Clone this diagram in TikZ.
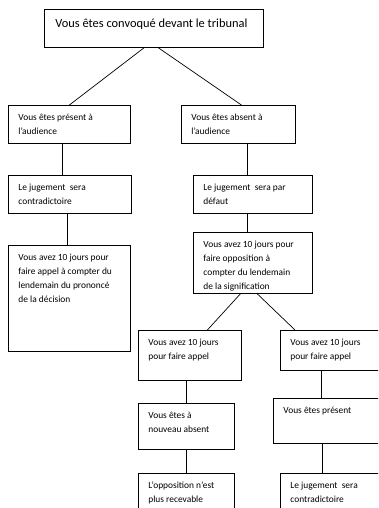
\documentclass[tikz,border=0pt]{standalone}
\usepackage{fontspec}
\setmainfont{Carlito}
\usepackage{tikz}
\newcommand{\cadre}[4]{\parbox[c][#2pt][t]{#1pt}{\raggedright\leftskip=10pt\baselineskip=14pt\rule{0pt}{#3pt}#4}}

\begin{document}
\begin{tikzpicture}[x=1pt,y=-1pt,
  boite/.style={draw,line width=0.8pt,anchor=north west,inner sep=0pt,font=\fontsize{9.4}{14}\selectfont},
  trait/.style={line width=0.7pt}]
\useasboundingbox (0,0) rectangle (378,508);
\clip (0,0) rectangle (378,508);
\node[boite,font=\fontsize{12.4}{15}\selectfont] (convoque) at (44,9) {\cadre{219}{38}{18}{\leftskip=11pt Vous êtes convoqué devant le tribunal}};
\node[boite] (present) at (8,105) {\cadre{122}{38}{15}{Vous êtes présent à\\ l’audience}};
\node[boite] (absent) at (181,105) {\cadre{114}{38}{15}{Vous êtes absent à\\ l’audience}};
\node[boite] (contra) at (8,175) {\cadre{123}{38}{15}{Le jugement\ \ sera\\ contradictoire}};
\node[boite] (defaut) at (193,175) {\cadre{119}{38}{15}{Le jugement\ \ sera par\\ défaut}};
\node[boite] (delai) at (8,245) {\cadre{122}{106}{15}{Vous avez 10 jours pour\\ faire appel à compter du\\ lendemain du prononcé\\ de la décision}};
\node[boite] (opposition) at (193,232) {\cadre{119}{61}{15}{Vous avez 10 jours pour\\ faire opposition à\\ compter du lendemain\\ de la signification}};
\node[boite] (appel1) at (138,330) {\cadre{103}{50}{15}{Vous avez 10 jours\\ pour faire appel}};
\node[boite] (appel2) at (280,330) {\cadre{110}{40}{15}{Vous avez 10 jours\\ pour faire appel}};
\node[boite] (nouveau) at (138,403) {\cadre{96}{46}{15}{Vous êtes à\\ nouveau absent}};
\node[boite] (irrecevable) at (138,473) {\cadre{96}{45}{15}{L’opposition n’est\\ plus recevable}};
\node[boite] (present2) at (273,398) {\cadre{115}{45}{15}{Vous êtes présent}};
\node[boite] (contra2) at (280,473) {\cadre{110}{45}{15}{Le jugement\ \ sera\\ contradictoire}};

\draw[trait] (convoque.243) -- (present.north);
\draw[trait] (convoque.283) -- ([xshift=3pt]absent.north);
\draw[trait] ([xshift=-7pt]present.south) -- ([xshift=-7pt]present.south |- contra.north);
\draw[trait] ([xshift=-2.5pt]contra.south) -- ([xshift=-2.5pt]contra.south |- delai.north);
\draw[trait] ([xshift=-5.5pt]defaut.north) -- ([xshift=-5.5pt]defaut.north |- absent.south);
\draw[trait] ([xshift=-5.5pt]defaut.south) -- ([xshift=-5.5pt]defaut.south |- opposition.north);
\draw[trait] (opposition.248) -- ([xshift=17.5pt]appel1.north);
\draw[trait] (opposition.278) -- ([xshift=15pt]appel2.north west);
\draw[trait] (nouveau.north) -- (nouveau.north |- appel1.south);
\draw[trait] (irrecevable.north) -- (irrecevable.north |- nouveau.south);
\draw[trait] ([xshift=41pt]appel2.south west) -- ([xshift=41pt]appel2.south west |- present2.north);
\draw[trait] ([xshift=49pt]present2.south west) -- ([xshift=49pt]present2.south west |- contra2.north);
\end{tikzpicture}
\end{document}
